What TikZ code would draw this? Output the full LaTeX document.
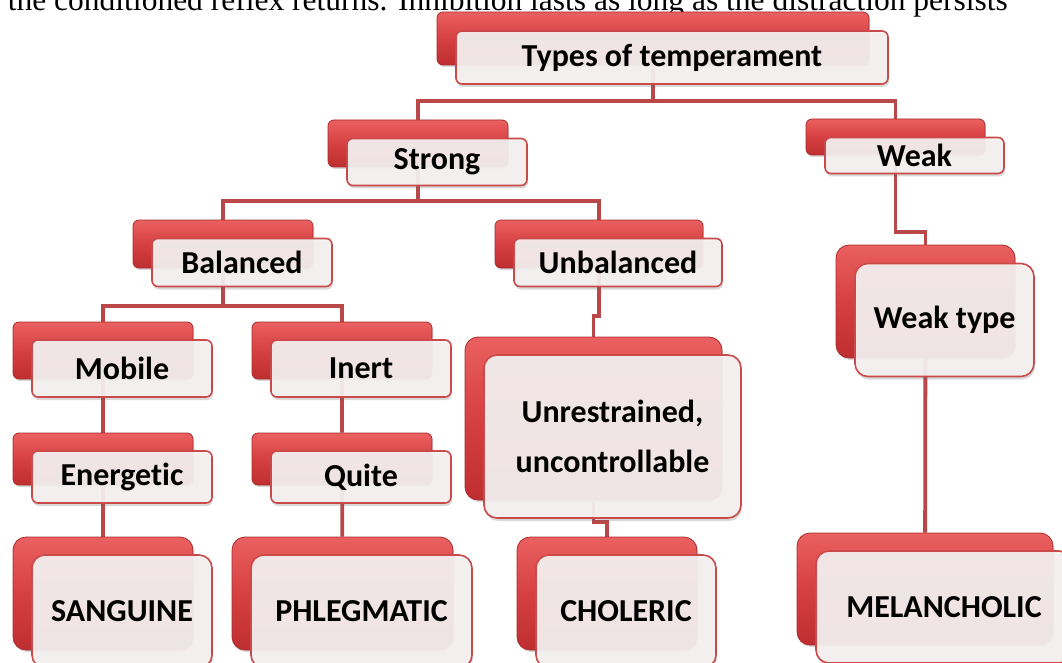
\documentclass[tikz,border=0pt]{standalone}
\usepackage{fontspec}
\setmainfont{Liberation Serif}
\newfontfamily\boxfont[RawFeature={-liga}]{Carlito}
\usetikzlibrary{
  shadows,
  backgrounds
}
\definecolor{BackTop}  {RGB}{234,96,96}
\definecolor{BackMid}  {RGB}{214,64,66}
\definecolor{BackLow}  {RGB}{190,46,48}
\definecolor{BackEdge} {RGB}{170,44,46}
\definecolor{FrontFill}{RGB}{245,241,241}
\definecolor{FrontEdge}{RGB}{202,74,74}
\definecolor{LinkRed}  {RGB}{186,72,72}

\begin{document}
\begin{tikzpicture}[
  x=1pt, y=-1pt,
  sz/.style 2 args={minimum width=#1, minimum height=#2},
  back/.style={rectangle, rounded corners=6pt, inner sep=0pt,
               draw=BackEdge, line width=0.8pt,
               top color=BackTop, bottom color=BackLow, middle color=BackMid,
               drop shadow={shadow xshift=1pt, shadow yshift=-2pt,
                            opacity=0.25, fill=black!60}},
  front/.style={rectangle, rounded corners=6pt, inner sep=0pt, align=center,
                draw=FrontEdge, line width=1.6pt,
                fill=FrontFill, fill opacity=0.93, text opacity=1,
                font=\boxfont\bfseries\fontsize{32}{40}\selectfont,
                drop shadow={shadow xshift=1pt, shadow yshift=-3pt,
                             opacity=0.25, fill=black!60}},
  big/.style={rounded corners=13pt},
  link/.style={draw=LinkRed, line width=3.8pt}
]
\useasboundingbox (0,0) rectangle (1062,663);
\clip (0,0) rectangle (1062,663);

% running text of the page above the chart
\node[anchor=base east, inner sep=0pt, font=\fontsize{31.5}{36}\selectfont] (pagetext) at (1008,11)
  {the conditioned reflex returns. Inhibition lasts as long as the distraction persists};

% level 0 and 1
\node[back, sz={432}{53}] (typesB) at (653,38.5) {};
\node[front, sz={432}{53}] (types) at ([shift={(19,19)}]typesB) {Types of temperament};

\node[back, sz={180}{47}] (strongB) at (418,143.5) {};
\node[front, sz={180}{47}] (strong) at ([shift={(19,18.5)}]strongB) {Strong};

\node[back, sz={179}{36}] (weakB) at (895.5,137) {};
\node[front, sz={179}{36}] (weak) at ([shift={(19,18.5)}]weakB) {Weak};

% level 2
\node[back, sz={180}{48}] (balB) at (223,244) {};
\node[front, sz={180}{48}] (bal) at ([shift={(19,18.5)}]balB) {Balanced};

\node[back, sz={208}{48}] (unbalB) at (599,244) {};
\node[front, sz={208}{48}] (unbal) at ([shift={(19,18.5)}]unbalB) {Unbalanced};

\node[back, big, sz={179}{113}] (weaktB) at (925.5,301.5) {};
\node[front, big, sz={179}{113}] (weakt) at ([shift={(19,18.5)}]weaktB) {Weak type};

% level 3 and 4
\node[back, sz={180}{57}] (mobileB) at (103,350.5) {};
\node[front, sz={180}{57}] (mobile) at ([shift={(19,18)}]mobileB) {Mobile};

\node[back, sz={180}{57}] (inertB) at (342,350.5) {};
\node[front, sz={180}{57}] (inert) at ([shift={(19,18)}]inertB) {Inert};

\node[back, sz={180}{52}] (energB) at (103,459) {};
\node[front, sz={180}{52}] (energ) at ([shift={(19,18)}]energB) {Energetic};

\node[back, sz={180}{52}] (quiteB) at (342,459) {};
\node[front, sz={180}{52}] (quite) at ([shift={(19,18)}]quiteB) {Quite};

\node[back, big, sz={257}{163}] (unrestB) at (593.5,418.5) {};
\node[front, big, sz={257}{163}, font=\boxfont\bfseries\fontsize{32}{50}\selectfont]
  (unrest) at ([shift={(19,18)}]unrestB) {Unrestrained,\\uncontrollable};

% temperaments
\node[back, big, sz={180}{113}] (sangB) at (103,593.5) {};
\node[front, big, sz={180}{113}] (sang) at ([shift={(19,18)}]sangB) {SANGUINE};

\node[back, big, sz={221}{113}] (phlegB) at (342.5,593.5) {};
\node[front, big, sz={221}{113}] (phleg) at ([shift={(19,18)}]phlegB) {PHLEGMATIC};

\node[back, big, sz={180}{113}] (cholB) at (607,593.5) {};
\node[front, big, sz={180}{113}] (chol) at ([shift={(19,18)}]cholB) {CHOLERIC};

\node[back, big, sz={256}{112}] (melanB) at (925,589) {};
\node[front, big, sz={256}{112}] (melan) at ([shift={(19,18)}]melanB) {MELANCHOLIC};

% bus lines
\coordinate (bus1) at (0,101);
\coordinate (bus2) at (0,201);
\coordinate (bus3) at (0,306);
\coordinate (jogW) at (0,232);
\coordinate (jogU) at (0,316);
\coordinate (jogC) at (0,522);

\begin{scope}[on background layer]
  \draw[link] (typesB) -- (typesB |- bus1) -| (strongB);
  \draw[link] (typesB |- bus1) -| (weakB);
  \draw[link] (strongB) -- (strongB |- bus2) -| (balB);
  \draw[link] (strongB |- bus2) -| (unbalB);
  \draw[link] (balB) -- (balB |- bus3) -| (mobileB);
  \draw[link] (balB |- bus3) -| (inertB);
  \draw[link] (mobileB) -- (energB) -- (sangB);
  \draw[link] (inertB) -- (quiteB) -- (phlegB);
  \draw[link] (unbalB) -- (unbalB |- jogU) -| (unrestB);
  \draw[link] (unrestB) -- (unrestB |- jogC) -| (cholB);
  \draw[link] (weakB) -- (weakB |- jogW) -| (weaktB);
  \draw[link] (weaktB) -- (melanB);
\end{scope}

\end{tikzpicture}
\end{document}
